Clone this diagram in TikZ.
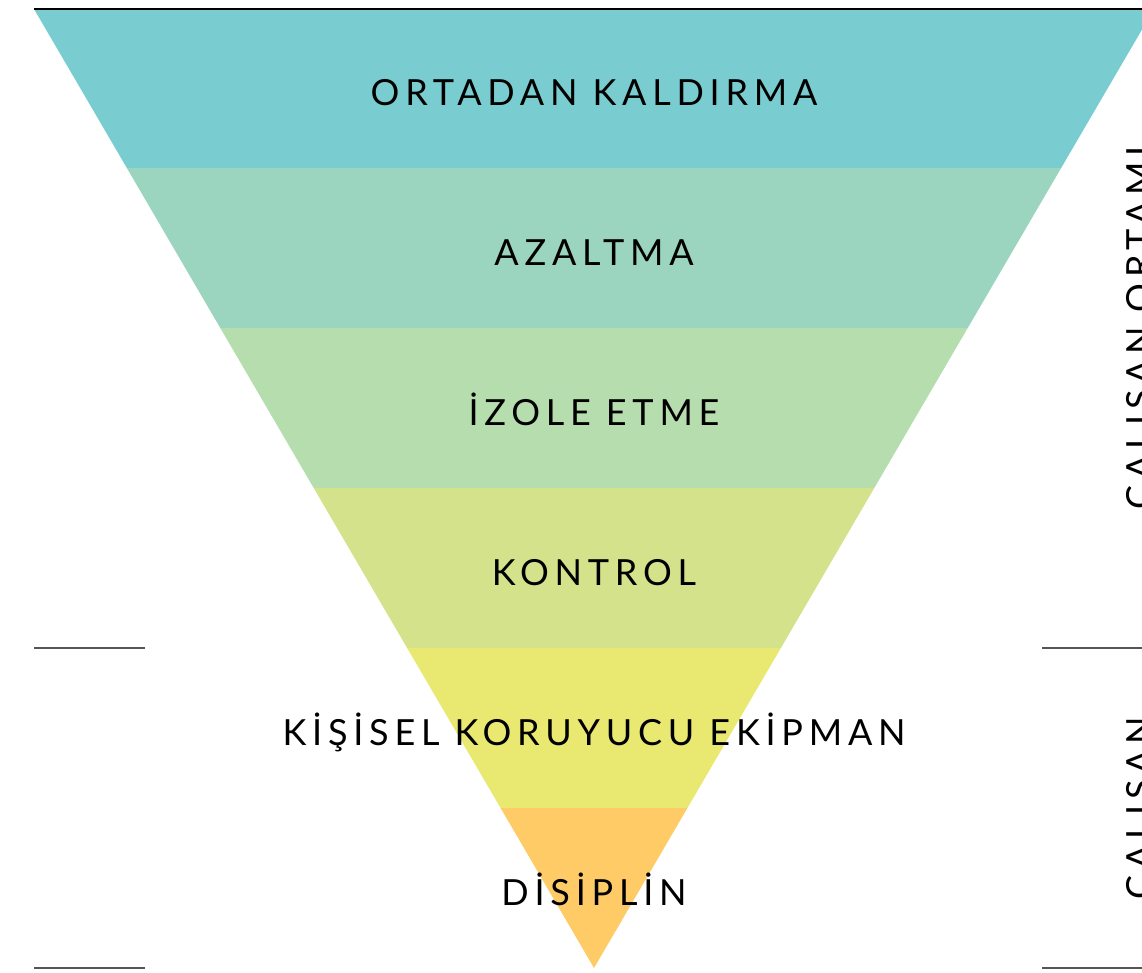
\documentclass[tikz,border=0pt]{standalone}
\usepackage{fontspec}
\newfontfamily\lbl{Lato}[LetterSpace=16]
\definecolor{b1}{HTML}{79CDD0}
\definecolor{b2}{HTML}{9BD5C0}
\definecolor{b3}{HTML}{B6DDAE}
\definecolor{b4}{HTML}{D3E28B}
\definecolor{b5}{HTML}{E9E972}
\definecolor{b6}{HTML}{FECB66}
\definecolor{rule}{HTML}{555555}
\tikzset{
  lab/.style={font=\lbl\fontsize{36}{40}\selectfont, text=black, anchor=base, inner sep=0pt},
  side/.style={lab, rotate=90},
  sep/.style={draw=rule, line width=2pt},
}
\begin{document}
\begin{tikzpicture}[x=1pt,y=-1pt]
\useasboundingbox (0,0) rectangle (1142,972);
\clip (0,0) rectangle (1142,972);
\fill[b1] (34,9) -- (1154,9) -- (1061.15,168) -- (126.85,168) -- cycle;
\fill[b2] (126.85,168) -- (1061.15,168) -- (967.72,328) -- (220.28,328) -- cycle;
\fill[b3] (220.28,328) -- (967.72,328) -- (874.29,488) -- (313.71,488) -- cycle;
\fill[b4] (313.71,488) -- (874.29,488) -- (780.86,648) -- (407.14,648) -- cycle;
\fill[b5] (407.14,648) -- (780.86,648) -- (687.43,808) -- (500.57,808) -- cycle;
\fill[b6] (500.57,808) -- (687.43,808) -- (594,968) -- cycle;
\draw[black, line width=1.5pt] (34,9) -- (1142,9);
\draw[sep] (34,648) -- (145,648);
\draw[sep] (34,968) -- (145,968);
\draw[sep] (1042,648) -- (1142,648);
\draw[sep] (1042,968) -- (1142,968);
\node[lab] (t1) at (594,105) {ORTADAN KALDIRMA};
\node[lab] (t2) at (594,265) {AZALTMA};
\node[lab] (t3) at (594,425) {İZOLE ETME};
\node[lab] (t4) at (594,585) {KONTROL};
\node[lab] (t5) at (594,745) {KİŞİSEL KORUYUCU EKİPMAN};
\node[lab] (t6) at (594,905) {DİSİPLİN};
\node[side] (s1) at (1152,328) {ÇALIŞAN ORTAMI};
\node[side] (s2) at (1152,808) {ÇALIŞAN};
\end{tikzpicture}
\end{document}
